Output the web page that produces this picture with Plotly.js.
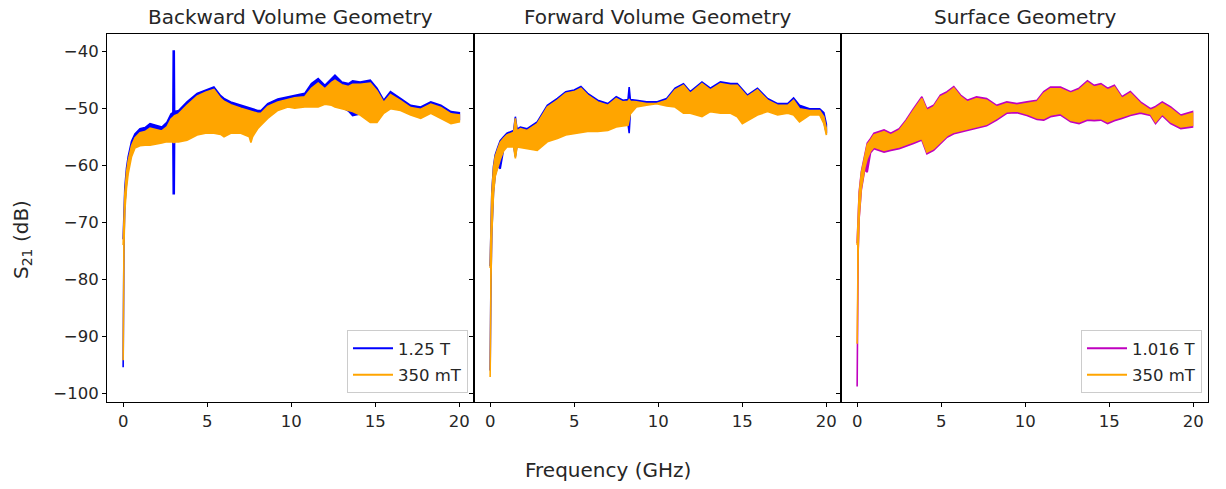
<!DOCTYPE html>
<html>
<head>
<meta charset="utf-8">
<script src="https://cdn.plot.ly/plotly-3.0.1.min.js"></script>
<style>
  html, body { margin: 0; padding: 0; background: #ffffff; }
  #chart { width: 1226px; height: 489px; }
</style>
</head>
<body>
<div id="chart"></div>
<script>
// ---------------- DATA ----------------
// Each series is drawn as its envelope band: upper (hi) and lower (lo) edges of the dense oscillation.
const panelTitles = ["Backward Volume Geometry", "Forward Volume Geometry", "Surface Geometry"];
const xTickVals = [0, 5, 10, 15, 20];
const xTickText = ["0", "5", "10", "15", "20"];
const yTickVals = [-100, -90, -80, -70, -60, -50, -40];
const yTickText = ["\u2212100", "\u221290", "\u221280", "\u221270", "\u221260", "\u221250", "\u221240"];

// Panel 1: Backward Volume Geometry
const bvFreq = [0, 0.05, 0.1, 0.2, 0.3, 0.5, 0.7, 1.0, 1.3, 1.6, 2.0, 2.3, 2.6, 2.85, 2.96, 2.98, 3.04, 3.06, 3.3, 3.8, 4.4, 4.9, 5.4, 5.8, 6.0, 6.4, 7.0, 7.5, 7.6, 7.7, 8.0, 8.2, 8.6, 9.2, 9.8, 10.2, 10.8, 11.2, 11.6, 12.0, 12.4, 12.6, 13.0, 13.4, 13.65, 14.1, 14.7, 15.1, 15.5, 15.9, 16.5, 17.1, 17.7, 18.3, 18.9, 19.5, 20.0];
const bv125Hi = [-73, -67, -64, -60.5, -58.5, -55.8, -54.5, -53.6, -53.4, -52.7, -53.0, -53.3, -52.5, -51.0, -50.8, -40, -40, -50.6, -50.4, -48.9, -47.4, -46.8, -46.3, -47.8, -48.3, -48.9, -49.5, -50.0, -50.1, -50.2, -50.4, -50.4, -49.2, -48.4, -48.0, -47.7, -47.4, -45.7, -44.8, -46.0, -44.8, -44.2, -45.4, -45.7, -45.2, -45.4, -45.1, -46.5, -48.6, -47.1, -48.3, -49.5, -49.8, -48.9, -49.5, -50.6, -50.8];
const bv125Lo = [-95.4, -73, -67, -63, -60.5, -57.5, -56.5, -56.2, -56.2, -56.0, -55.8, -55.6, -55.4, -55.4, -55.5, -65, -65, -55.5, -55.4, -55.1, -54.2, -53.9, -53.9, -54.0, -54.5, -54.0, -54.0, -54.5, -55.4, -54.5, -53.1, -52.5, -51.4, -50.1, -49.5, -49.7, -49.5, -49.5, -49.5, -49.0, -49.2, -49.5, -49.8, -50.5, -51.3, -51.0, -52.2, -52.2, -50.6, -49.8, -50.0, -50.8, -51.4, -50.6, -51.4, -52.2, -52.0];
const bv350Hi = [-74, -68, -65, -61.3, -59.2, -56.6, -55.2, -54.3, -54.1, -53.5, -53.8, -54.0, -53.3, -51.9, -51.6, -51.5, -51.4, -51.3, -51.0, -49.5, -47.9, -47.2, -46.7, -48.3, -48.8, -49.4, -50.0, -50.5, -50.6, -50.7, -50.9, -50.9, -49.7, -48.9, -48.5, -48.2, -48.0, -46.5, -45.6, -46.6, -45.5, -45.1, -45.9, -46.2, -45.8, -45.8, -45.6, -47.0, -49.0, -47.6, -48.7, -49.9, -50.2, -49.3, -49.9, -51.0, -51.2];
const bv350Lo = [-94.2, -74, -68, -64, -61.5, -58.5, -57.0, -56.6, -56.5, -56.5, -56.3, -56.1, -55.9, -55.9, -55.9, -56.0, -56.0, -55.9, -55.9, -55.6, -54.7, -54.4, -54.4, -54.6, -55.0, -54.4, -54.4, -55.0, -56.0, -55.0, -53.6, -53.0, -51.8, -50.4, -49.8, -50.0, -49.8, -49.8, -49.8, -49.3, -49.5, -49.8, -50.1, -50.4, -50.6, -51.2, -52.5, -52.5, -50.9, -50.1, -50.4, -51.2, -51.8, -50.9, -51.8, -52.7, -52.4];

// Panel 2: Forward Volume Geometry
const fvFreq = [0, 0.05, 0.1, 0.2, 0.3, 0.45, 0.6, 0.8, 1.0, 1.4, 1.5, 1.6, 1.8, 2.2, 2.8, 3.4, 4.0, 4.5, 5.0, 5.4, 5.8, 6.4, 7.0, 7.5, 7.9, 8.2, 8.27, 8.34, 8.7, 9.3, 9.9, 10.5, 11.0, 11.5, 11.9, 12.6, 13.1, 13.7, 14.3, 14.7, 15.0, 15.3, 15.9, 16.5, 17.1, 17.7, 18.05, 18.4, 19.0, 19.6, 19.85, 20.0];
const fv125Hi = [-77.7, -69.7, -64.7, -60.2, -58.2, -56.9, -55.7, -55.0, -54.4, -53.9, -51.5, -53.7, -53.3, -53.6, -52.4, -49.5, -48.3, -47.1, -46.8, -46.2, -47.4, -48.6, -49.2, -48.0, -48.6, -48.5, -46.3, -48.5, -48.6, -48.9, -48.9, -48.3, -46.5, -45.7, -47.1, -45.4, -46.5, -45.4, -45.7, -45.7, -46.7, -47.7, -46.5, -48.3, -49.2, -49.2, -48.2, -49.5, -50.1, -50.1, -50.8, -52.8];
const fv125Lo = [-96.0, -79.7, -71.7, -64.7, -61.7, -60.2, -60.6, -57.2, -56.5, -56.5, -58.5, -56.5, -56.6, -56.8, -57.1, -55.6, -55.0, -54.4, -54.1, -54.0, -53.8, -53.8, -53.6, -53.0, -52.8, -52.7, -54.4, -50.7, -49.5, -49.2, -48.9, -49.3, -49.5, -50.6, -50.6, -51.2, -50.3, -50.6, -50.6, -51.2, -52.4, -51.9, -50.9, -50.3, -50.9, -50.6, -50.9, -52.1, -50.9, -50.9, -52.4, -54.4];
const fv350Hi = [-78, -70, -65, -60.5, -58.5, -57.2, -56.0, -55.3, -54.7, -54.2, -51.8, -54.0, -53.6, -53.9, -52.7, -49.8, -48.6, -47.4, -47.1, -46.5, -47.7, -48.9, -49.5, -48.3, -48.9, -48.8, -48.5, -48.8, -48.9, -49.2, -49.2, -48.6, -46.8, -46.0, -47.4, -45.7, -46.8, -45.7, -46.0, -46.0, -47.0, -48.0, -46.8, -48.6, -49.5, -49.5, -48.6, -50.1, -50.4, -50.4, -51.5, -53.6];
const fv350Lo = [-97.1, -80, -72, -65, -62, -60.5, -59.0, -57.5, -56.8, -56.8, -58.8, -56.8, -56.9, -57.1, -57.4, -55.9, -55.3, -54.7, -54.4, -54.3, -54.1, -54.1, -53.9, -53.3, -53.1, -53.0, -52.0, -51.0, -49.8, -49.5, -49.2, -49.6, -49.8, -50.9, -50.9, -51.5, -50.6, -50.9, -50.9, -51.5, -52.7, -52.2, -51.2, -50.6, -51.2, -50.9, -51.2, -52.4, -51.2, -51.2, -52.7, -54.7];

// Panel 3: Surface Geometry
const sfFreq = [0, 0.06, 0.12, 0.25, 0.45, 0.6, 0.8, 1.0, 1.6, 2.0, 2.5, 2.9, 3.35, 3.85, 4.15, 4.55, 4.95, 5.35, 5.75, 6.15, 6.55, 7.1, 7.7, 8.3, 8.9, 9.5, 10.1, 10.7, 11.1, 11.5, 12.1, 12.7, 13.2, 13.7, 14.1, 14.5, 14.9, 15.3, 15.75, 16.25, 16.85, 17.45, 17.75, 18.15, 18.65, 19.25, 19.6, 19.95];
const sf1016Hi = [-73.7, -68.7, -64.7, -61.1, -58.3, -56.1, -55.3, -54.4, -53.8, -54.4, -53.6, -52.1, -50.1, -48.0, -50.1, -49.5, -47.7, -47.1, -46.2, -47.7, -48.6, -48.0, -48.3, -49.5, -48.9, -49.2, -48.9, -48.6, -47.1, -46.3, -46.3, -47.1, -46.5, -45.2, -46.0, -45.7, -46.5, -46.0, -48.0, -47.1, -48.9, -50.1, -49.7, -48.9, -49.8, -51.2, -50.9, -50.6];
const sf1016Lo = [-98.8, -75.3, -69.3, -64.3, -60.8, -61.2, -57.8, -57.1, -57.7, -57.4, -57.1, -56.7, -56.2, -55.6, -58.0, -57.4, -56.2, -55.1, -54.5, -54.2, -54.0, -53.5, -53.1, -52.1, -50.9, -50.8, -51.3, -52.0, -52.1, -51.5, -51.2, -52.4, -52.7, -52.1, -52.2, -52.1, -52.7, -52.2, -51.8, -51.3, -50.9, -51.3, -52.7, -51.3, -52.7, -53.6, -53.5, -53.3];
const sf350Hi = [-74, -69, -65, -61.4, -58.6, -56.4, -55.6, -54.7, -54.1, -54.7, -53.9, -52.4, -50.4, -48.3, -50.4, -49.8, -48.0, -47.4, -46.5, -48.0, -48.9, -48.3, -48.6, -49.8, -49.2, -49.5, -49.2, -48.9, -47.4, -46.6, -46.6, -47.4, -46.8, -45.5, -46.3, -46.0, -46.8, -46.3, -48.3, -47.4, -49.2, -50.4, -50.0, -49.2, -50.1, -51.5, -51.2, -50.9];
const sf350Lo = [-91.3, -75, -69, -64, -60.5, -58.8, -57.5, -56.8, -57.4, -57.1, -56.8, -56.4, -55.9, -55.3, -57.7, -57.1, -55.9, -54.8, -54.2, -53.9, -53.7, -53.2, -52.8, -51.8, -50.6, -50.5, -51.0, -51.7, -51.8, -51.2, -50.9, -52.1, -52.4, -51.8, -51.9, -51.8, -52.4, -51.9, -51.5, -51.0, -50.6, -51.0, -52.4, -51.0, -52.4, -53.3, -53.2, -53.0];

// ---------------- STYLE ----------------
const BLUE = "#0000ff", ORANGE = "#ffa500", MAGENTA = "#bf00bf";
const FONT = "DejaVu Sans, sans-serif";
const TXT = "#262626";
const TICK_SIZE = 16.5, TITLE_SIZE = 20;

function band(freq, hi, lo, color, xa, ya) {
  const x = freq.concat(freq.slice().reverse());
  const y = hi.concat(lo.slice().reverse());
  return {
    type: "scatter", mode: "lines", x: x, y: y,
    fill: "toself", fillcolor: color,
    line: {color: color, width: 1.6},
    xaxis: xa, yaxis: ya, showlegend: false, hoverinfo: "skip"
  };
}
function legendEntry(name, color, xa, ya, leg, grp) {
  return {
    type: "scatter", mode: "lines", x: [null], y: [null], name: name,
    line: {color: color, width: 2}, xaxis: xa, yaxis: ya,
    showlegend: true, legend: leg, legendgroup: grp
  };
}

const data = [
  band(bvFreq, bv125Hi, bv125Lo, BLUE, "x", "y"),
  band(bvFreq, bv350Hi, bv350Lo, ORANGE, "x", "y"),
  band(fvFreq, fv125Hi, fv125Lo, BLUE, "x2", "y2"),
  band(fvFreq, fv350Hi, fv350Lo, ORANGE, "x2", "y2"),
  band(sfFreq, sf1016Hi, sf1016Lo, MAGENTA, "x3", "y3"),
  band(sfFreq, sf350Hi, sf350Lo, ORANGE, "x3", "y3"),
  legendEntry("1.25 T", BLUE, "x", "y", "legend", "a"),
  legendEntry("350 mT", ORANGE, "x", "y", "legend", "b"),
  legendEntry("1.016 T", MAGENTA, "x3", "y3", "legend2", "c"),
  legendEntry("350 mT", ORANGE, "x3", "y3", "legend2", "d")
];

const W = 1226, H = 489;
const px = v => v / W, py = v => 1 - v / H;
const yDom = [py(402), py(34)];
const xRange = [-0.96, 20.87];
const yRange = [-101.5, -37.0];

function xAxis(domain, anchor) {
  return {
    domain: domain, anchor: anchor, range: xRange,
    tickmode: "array", tickvals: xTickVals, ticktext: xTickText,
    ticks: "outside", ticklen: 4, tickwidth: 1, tickcolor: "#000",
    showline: true, linecolor: "#000", linewidth: 1, mirror: true,
    showgrid: false, zeroline: false,
    tickfont: {family: FONT, size: TICK_SIZE, color: TXT}
  };
}
function yAxis(anchor, labels) {
  return {
    domain: yDom, anchor: anchor, range: yRange,
    tickmode: "array", tickvals: yTickVals, ticktext: yTickText,
    showticklabels: labels,
    ticks: "outside", ticklen: 4, tickwidth: 1, tickcolor: "#000",
    showline: true, linecolor: "#000", linewidth: 1, mirror: true,
    showgrid: false, zeroline: false,
    tickfont: {family: FONT, size: TICK_SIZE, color: TXT}
  };
}

const legendBase = {
  bgcolor: "rgba(255,255,255,0.8)", bordercolor: "#cccccc", borderwidth: 1,
  font: {family: FONT, size: TICK_SIZE, color: TXT},
  xanchor: "right", yanchor: "bottom",
  traceorder: "grouped", tracegroupgap: 2, itemwidth: 40
};

function label(text, x, y, angle) {
  return {text: text, x: px(x), y: py(y), xref: "paper", yref: "paper", showarrow: false,
          xanchor: "center", yanchor: "middle", textangle: angle || 0,
          font: {family: FONT, size: TITLE_SIZE, color: TXT}};
}

const layout = {
  width: W, height: H,
  margin: {l: 0, r: 0, t: 0, b: 0},
  paper_bgcolor: "#ffffff", plot_bgcolor: "#ffffff",
  font: {family: FONT, color: TXT},
  xaxis: xAxis([px(107), px(474)], "y"),
  xaxis2: xAxis([px(474), px(841)], "y2"),
  xaxis3: xAxis([px(841), px(1208)], "y3"),
  yaxis: yAxis("x", true),
  yaxis2: yAxis("x2", false),
  yaxis3: yAxis("x3", false),
  legend: Object.assign({}, legendBase, {x: px(468), y: py(393)}),
  legend2: Object.assign({}, legendBase, {x: px(1202), y: py(393)}),
  annotations: [
    label(panelTitles[0], 290.5, 17),
    label(panelTitles[1], 657.5, 17),
    label(panelTitles[2], 1024.5, 17),
    label("Frequency (GHz)", 607.5, 470),
    label("S<sub>21</sub> (dB)", 22, 239, -90)
  ]
};

Plotly.newPlot("chart", data, layout, {staticPlot: true, displayModeBar: false});
</script>
</body>
</html>
